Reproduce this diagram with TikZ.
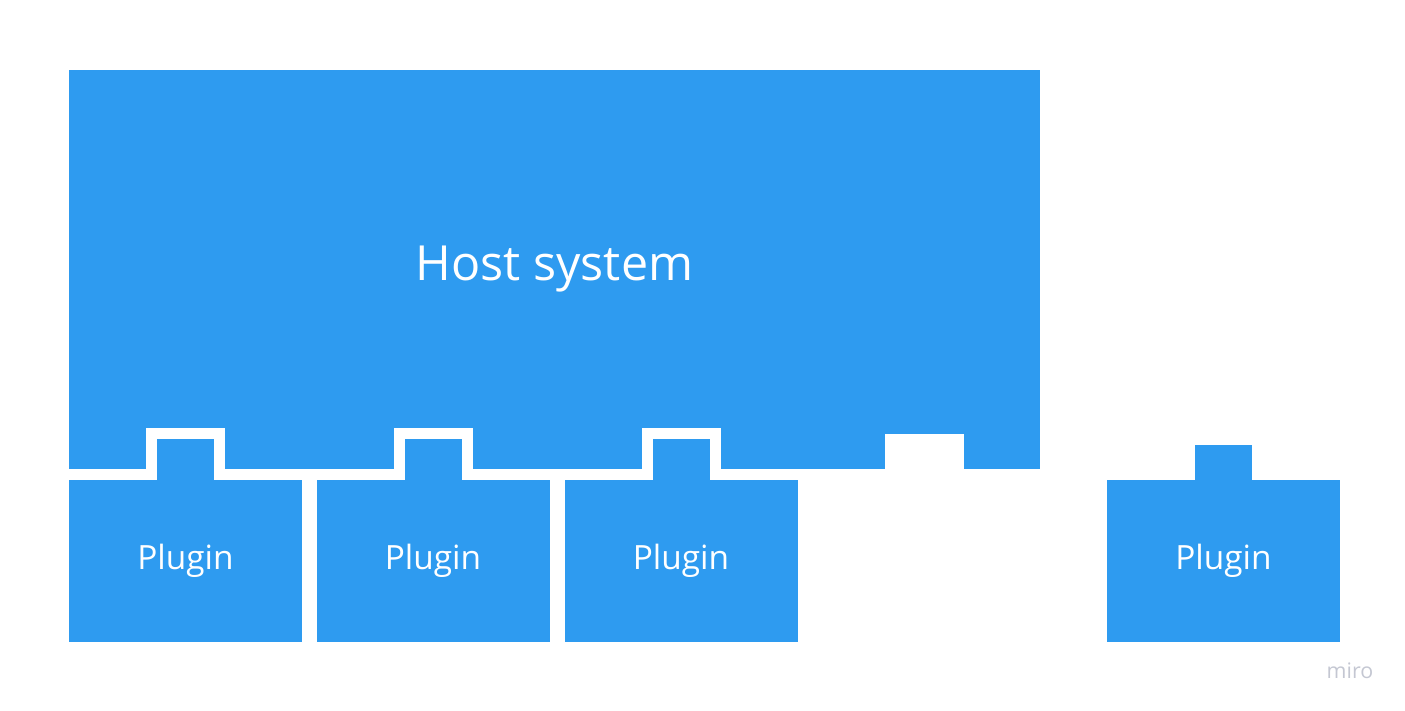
\documentclass[tikz,border=0pt]{standalone}
\usepackage{fontspec}
\setmainfont{Open Sans}
\usetikzlibrary{positioning}
\definecolor{plugblue}{HTML}{2E9BF0}
\definecolor{mirogray}{HTML}{C4C7D2}
\begin{document}
\begin{tikzpicture}[x=0.5pt,y=-0.5pt]
\tikzstyle{every node}+=[inner sep=0pt,outer sep=0pt]
\tikzset{hostbox/.style={fill=plugblue,minimum width=485.5pt,minimum height=199.5pt},
  plugin/.style={fill=plugblue,minimum width=116.5pt,minimum height=81pt,text=white,font=\fontsize{16.7}{20}\selectfont},
  tab/.style={fill=plugblue,minimum width=28.5pt,minimum height=20.5pt},
  notch/.style={fill=white,minimum width=39.5pt,minimum height=20.5pt}}
\useasboundingbox (0,0) rectangle (1405,711);
\node [hostbox] (host) at (554.5,269.5) {};
\node [text=white,font=\fontsize{24.2}{29}\selectfont] (hostlabel) at ([yshift=0pt]host.center) {Host system};
\node [notch] (n1) at (185.5,448.5) {};
\node [notch] (n2) at (433,448.5) {};
\node [notch] (n3) at (681,448.5) {};
\node [notch,minimum height=17.5pt] (n4) at (924.5,451.5) {};
\node [plugin] (p1) at (185.5,561) {Plugin};
\node [plugin] (p2) at (433,561) {Plugin};
\node [plugin] (p3) at (681,561) {Plugin};
\node [plugin] (p4) at (1223.5,561) {Plugin};
\node [tab,above=0pt of p1] (t1) {};
\node [tab,above=0pt of p2] (t2) {};
\node [tab,above=0pt of p3] (t3) {};
\node [tab,minimum height=17.5pt,above=0pt of p4] (t4) {};
\node [text=mirogray,font=\fontsize{10.7}{13}\selectfont] (miro) at (1350,671) {miro};
\end{tikzpicture}
\end{document}
